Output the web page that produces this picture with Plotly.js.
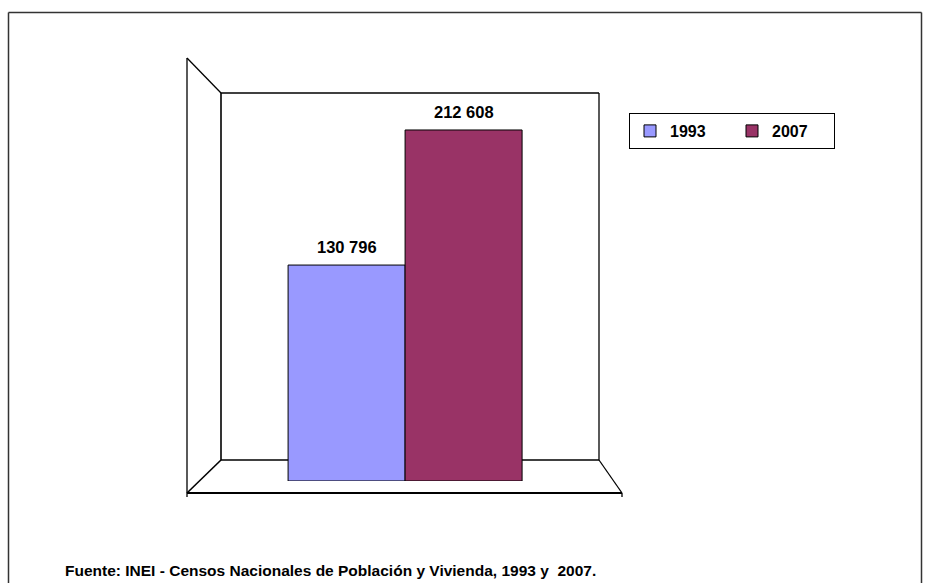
<!DOCTYPE html>
<html>
<head>
<meta charset="utf-8">
<script src="https://cdn.plot.ly/plotly-3.0.1.min.js"></script>
<style>html,body{margin:0;padding:0;background:#fff;}#chart{width:933px;height:583px;}</style>
</head>
<body>
<div id="chart"></div>
<script>
const categories = ["Total"];
const seriesNames = ["1993", "2007"];
const values1993 = [130796];
const values2007 = [212608];
const valueLabels1993 = ["130 796"];
const valueLabels2007 = ["212 608"];
const sourceText = "Fuente: INEI - Censos Nacionales de Población y Vivienda, 1993 y  2007.";

const FONT = '"Liberation Sans", Arial, sans-serif';
const BARGAP = 0.381;

const traces = [
  {
    type: 'bar', name: seriesNames[0], x: categories, y: values1993,
    marker: {color: '#9999FF', line: {color: '#000', width: 1}},
    hoverinfo: 'skip'
  },
  {
    type: 'bar', name: seriesNames[1], x: categories, y: values2007,
    marker: {color: '#993366', line: {color: '#000', width: 1}},
    hoverinfo: 'skip'
  }
];

// value labels placed above each bar via the axis scales
const barHalf = (1 - BARGAP) / 4;
const labelAnnotations = [];
[[values1993, valueLabels1993, -barHalf], [values2007, valueLabels2007, barHalf]].forEach(([vals, labs, off]) => {
  vals.forEach((v, i) => {
    labelAnnotations.push({
      xref: 'x', yref: 'y', x: i + off, y: v, text: labs[i],
      xanchor: 'center', yanchor: 'bottom', yshift: 7, showarrow: false,
      font: {family: FONT, size: 16.5, color: '#000', weight: 'bold'}
    });
  });
});

function pxX(p) { return (p - 221) / 378; }
function pxY(p) { return (481 - p) / 388; }
function line(x0, y0, x1, y1, w, c) {
  return {type: 'line', xref: 'paper', yref: 'paper', layer: 'below',
    x0: pxX(x0), y0: pxY(y0), x1: pxX(x1), y1: pxY(y1),
    line: {color: c || '#000', width: w || 1.3}};
}

const shapes = [
  // outer frame
  line(8.5, 12.5, 921.5, 12.5, 1.5, '#333'),
  line(8.5, 12.5, 8.5, 583, 1.5, '#333'),
  line(921.5, 12.5, 921.5, 583, 1.5, '#333'),
  // back wall
  line(221, 93, 599, 93, 1.3),
  line(221, 93, 221, 460, 1.6),
  line(599, 93, 599, 460, 1.3),
  line(221, 460, 599, 460, 1.6),
  // side wall / floor
  line(187, 58, 221, 93, 1.3),
  line(187, 58, 187, 497, 1.3),
  line(187, 493, 221, 460, 1.6),
  line(622, 493, 599, 460, 1.3),
  line(187, 493, 622, 493, 1.8),
  line(622, 493, 622, 497, 1.3)
];

const layout = {
  width: 933, height: 583,
  margin: {l: 221, r: 334, t: 93, b: 102},
  paper_bgcolor: '#fff', plot_bgcolor: 'rgba(0,0,0,0)',
  barmode: 'group', bargap: BARGAP, bargroupgap: 0,
  font: {family: FONT, color: '#000'},
  xaxis: {type: 'category', range: [-0.487, 0.513], showgrid: false, zeroline: false,
    showticklabels: false, showline: false, ticks: '', fixedrange: true},
  yaxis: {range: [0, 235000], showgrid: false, zeroline: false, showticklabels: false,
    showline: false, ticks: '', fixedrange: true},
  showlegend: true,
  legend: {
    orientation: 'h', x: pxX(629), y: pxY(113), xanchor: 'left', yanchor: 'top',
    bordercolor: '#000', borderwidth: 1, bgcolor: '#fff',
    font: {family: FONT, size: 16, color: '#000', weight: 'bold'},
    entrywidth: 57, itemwidth: 30, tracegroupgap: 0
  },
  shapes: shapes,
  annotations: labelAnnotations.concat([{
    text: sourceText, xref: 'paper', yref: 'paper', x: pxX(63), y: pxY(570),
    xanchor: 'left', yanchor: 'middle', showarrow: false,
    font: {family: FONT, size: 15.5, color: '#000', weight: 'bold'}
  }])
};

Plotly.newPlot('chart', traces, layout, {displayModeBar: false, staticPlot: true});
</script>
</body>
</html>
